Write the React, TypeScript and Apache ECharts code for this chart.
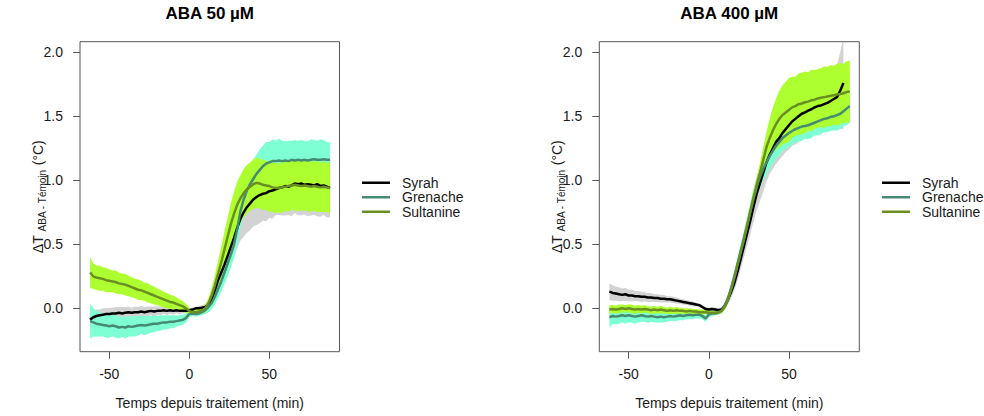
import React, { useEffect, useRef } from 'react';
import * as echarts from 'echarts';

// Time since treatment (min)
const TIME = [-62,-60,-58,-56,-54,-52,-50,-48,-46,-44,-42,-40,-38,-36,-34,-32,-30,-28,-26,-24,-22,-20,-18,-16,-14,-12,-10,-8,-6,-4,-2,0,2,4,6,8,10,12,14,16,18,20,22,24,26,28,30,32,34,36,38,40,42,44,46,48,50,52,54,56,58,60,62,64,66,68,70,72,74,76,78,80,82,84,86,88];

const CULTIVARS = ['Syrah', 'Grenache', 'Sultanine'];
const TITLES = ['ABA 50 µM', 'ABA 400 µM'];
const X_TICKS = [-50, 0, 50];
const Y_TICKS = [0, 0.5, 1, 1.5, 2];

// ---- ABA 50 µM ----
const syrah50 = [-0.09,-0.07,-0.06,-0.055,-0.05,-0.045,-0.045,-0.04,-0.04,-0.035,
  -0.04,-0.035,-0.03,-0.035,-0.03,-0.03,-0.025,-0.03,-0.025,-0.02,
  -0.025,-0.02,-0.02,-0.015,-0.02,-0.015,-0.02,-0.015,-0.02,-0.02,
  -0.02,-0.015,-0.01,0.0,0.0,0.005,0.01,0.03,0.07,0.14,
  0.22,0.28,0.34,0.41,0.48,0.55,0.63,0.70,0.75,0.79,
  0.82,0.85,0.87,0.885,0.895,0.90,0.915,0.92,0.93,0.94,
  0.945,0.955,0.95,0.96,0.975,0.97,0.975,0.965,0.97,0.965,
  0.96,0.97,0.955,0.96,0.95,0.94];
const syrah50Se = [0.07,0.05,0.05,0.045,0.05,0.045,0.05,0.045,0.05,0.045,
  0.05,0.045,0.045,0.04,0.045,0.04,0.045,0.04,0.04,0.035,
  0.04,0.035,0.035,0.03,0.035,0.03,0.03,0.025,0.025,0.02,
  0.02,0.015,0.015,0.015,0.015,0.02,0.025,0.035,0.05,0.07,
  0.09,0.1,0.11,0.12,0.13,0.14,0.16,0.17,0.19,0.2,
  0.21,0.21,0.22,0.22,0.21,0.22,0.21,0.22,0.2,0.21,
  0.22,0.23,0.22,0.24,0.23,0.24,0.25,0.23,0.25,0.24,
  0.23,0.25,0.24,0.23,0.24,0.23];
const grenache50 = [-0.10,-0.11,-0.12,-0.125,-0.13,-0.135,-0.14,-0.135,-0.14,-0.15,
  -0.145,-0.15,-0.14,-0.145,-0.14,-0.135,-0.13,-0.135,-0.13,-0.125,
  -0.12,-0.12,-0.115,-0.11,-0.11,-0.105,-0.105,-0.1,-0.095,-0.09,
  -0.075,-0.045,-0.04,-0.045,-0.04,-0.03,-0.015,0.01,0.04,0.09,
  0.15,0.21,0.28,0.35,0.42,0.50,0.62,0.76,0.85,0.92,
  0.97,1.01,1.05,1.08,1.11,1.13,1.14,1.15,1.15,1.155,
  1.15,1.155,1.15,1.16,1.155,1.16,1.155,1.16,1.155,1.16,
  1.165,1.16,1.16,1.165,1.16,1.16];
const grenache50Se = [0.14,0.11,0.1,0.095,0.09,0.095,0.09,0.085,0.09,0.085,
  0.08,0.085,0.08,0.075,0.08,0.075,0.07,0.075,0.07,0.065,
  0.065,0.06,0.06,0.055,0.055,0.05,0.05,0.045,0.04,0.04,
  0.035,0.025,0.02,0.02,0.02,0.025,0.03,0.04,0.05,0.06,
  0.07,0.08,0.09,0.1,0.1,0.11,0.12,0.13,0.13,0.14,
  0.14,0.15,0.15,0.16,0.16,0.17,0.16,0.17,0.16,0.17,
  0.16,0.15,0.16,0.15,0.16,0.15,0.16,0.15,0.15,0.16,
  0.15,0.15,0.16,0.15,0.14,0.14];
const sultanine50 = [0.28,0.25,0.24,0.235,0.23,0.22,0.215,0.21,0.205,0.195,
  0.19,0.185,0.175,0.165,0.155,0.145,0.14,0.13,0.12,0.11,
  0.10,0.09,0.08,0.07,0.06,0.05,0.045,0.035,0.025,0.015,
  0.0,-0.02,-0.03,-0.03,-0.025,-0.015,0.0,0.04,0.1,0.18,
  0.27,0.36,0.46,0.56,0.66,0.74,0.81,0.86,0.90,0.93,
  0.95,0.97,0.98,0.975,0.965,0.96,0.955,0.945,0.94,0.94,
  0.945,0.95,0.955,0.96,0.965,0.96,0.955,0.96,0.955,0.95,
  0.955,0.95,0.945,0.95,0.945,0.94];
const sultanine50Se = [0.12,0.1,0.095,0.1,0.09,0.095,0.09,0.085,0.09,0.085,
  0.08,0.085,0.08,0.08,0.075,0.08,0.075,0.07,0.075,0.07,
  0.07,0.065,0.065,0.06,0.06,0.055,0.055,0.05,0.045,0.04,
  0.035,0.025,0.02,0.02,0.02,0.025,0.03,0.04,0.06,0.08,
  0.1,0.12,0.14,0.15,0.16,0.17,0.18,0.18,0.19,0.19,
  0.19,0.19,0.2,0.19,0.2,0.19,0.2,0.19,0.2,0.19,
  0.2,0.19,0.2,0.19,0.2,0.2,0.19,0.2,0.19,0.2,
  0.19,0.2,0.19,0.2,0.19,0.2];

// ---- ABA 400 µM ----
const syrah400 = [0.13,0.12,0.115,0.11,0.105,0.11,0.10,0.1,0.095,0.095,
  0.09,0.09,0.085,0.085,0.08,0.08,0.075,0.075,0.07,0.07,
  0.065,0.06,0.055,0.05,0.045,0.04,0.035,0.03,0.025,0.01,
  -0.005,-0.01,-0.005,-0.01,-0.015,-0.01,0.02,0.07,0.13,0.2,
  0.29,0.39,0.49,0.59,0.69,0.80,0.90,0.98,1.06,1.14,
  1.2,1.25,1.3,1.33,1.37,1.40,1.43,1.46,1.48,1.50,
  1.52,1.53,1.545,1.555,1.57,1.58,1.585,1.595,1.605,1.62,
  1.635,1.65,1.70,1.76,null,null];
const syrah400Se = [0.065,0.06,0.055,0.055,0.05,0.05,0.045,0.045,0.04,0.04,
  0.04,0.035,0.035,0.035,0.03,0.03,0.03,0.03,0.025,0.025,
  0.025,0.025,0.02,0.02,0.02,0.02,0.02,0.015,0.015,0.015,
  0.015,0.015,0.015,0.015,0.015,0.02,0.03,0.04,0.05,0.06,
  0.07,0.08,0.09,0.1,0.11,0.12,0.13,0.14,0.15,0.15,
  0.15,0.16,0.17,0.17,0.18,0.18,0.19,0.19,0.2,0.2,
  0.2,0.2,0.21,0.2,0.21,0.2,0.21,0.21,0.22,0.22,
  0.22,0.25,0.3,0.36,null,null];
const grenache400 = [-0.07,-0.06,-0.065,-0.06,-0.055,-0.06,-0.055,-0.06,-0.065,-0.06,
  -0.055,-0.06,-0.065,-0.06,-0.065,-0.07,-0.065,-0.07,-0.065,-0.06,
  -0.065,-0.06,-0.055,-0.06,-0.055,-0.05,-0.055,-0.05,-0.05,-0.06,
  -0.08,-0.05,-0.04,-0.04,-0.035,-0.02,0.02,0.08,0.16,0.25,
  0.35,0.45,0.55,0.65,0.76,0.86,0.95,1.03,1.09,1.14,
  1.19,1.23,1.27,1.30,1.33,1.35,1.37,1.385,1.40,1.41,
  1.42,1.425,1.43,1.44,1.45,1.46,1.47,1.48,1.485,1.495,
  1.50,1.51,1.52,1.54,1.56,1.58];
const grenache400Se = [0.08,0.065,0.06,0.06,0.055,0.06,0.055,0.05,0.055,0.05,
  0.05,0.045,0.05,0.045,0.045,0.04,0.045,0.04,0.04,0.04,
  0.035,0.04,0.035,0.035,0.03,0.035,0.03,0.03,0.03,0.025,
  0.025,0.02,0.02,0.015,0.015,0.02,0.025,0.03,0.04,0.05,
  0.05,0.06,0.06,0.07,0.07,0.08,0.08,0.09,0.09,0.1,
  0.1,0.1,0.1,0.11,0.1,0.11,0.11,0.11,0.1,0.11,
  0.11,0.1,0.11,0.11,0.1,0.11,0.11,0.1,0.11,0.11,
  0.11,0.12,0.12,0.12,0.13,0.13];
const sultanine400 = [-0.01,-0.005,-0.01,-0.005,0.0,-0.005,0.0,-0.005,-0.01,-0.005,
  -0.01,-0.005,-0.01,-0.015,-0.01,-0.015,-0.01,-0.015,-0.02,-0.015,
  -0.02,-0.015,-0.02,-0.02,-0.025,-0.02,-0.025,-0.025,-0.03,-0.03,
  -0.03,-0.035,-0.035,-0.035,-0.03,-0.02,0.01,0.07,0.15,0.24,
  0.34,0.44,0.54,0.65,0.76,0.87,0.97,1.06,1.16,1.26,
  1.33,1.39,1.44,1.48,1.51,1.53,1.55,1.57,1.58,1.595,
  1.60,1.61,1.615,1.625,1.63,1.64,1.645,1.65,1.655,1.66,
  1.665,1.67,1.675,1.68,1.69,1.695];
const sultanine400Se = [0.035,0.03,0.03,0.035,0.03,0.03,0.03,0.035,0.03,0.03,
  0.03,0.03,0.025,0.03,0.03,0.025,0.03,0.025,0.025,0.03,
  0.025,0.025,0.025,0.02,0.025,0.02,0.02,0.02,0.02,0.02,
  0.015,0.015,0.015,0.015,0.015,0.02,0.02,0.025,0.03,0.035,
  0.04,0.04,0.045,0.05,0.05,0.055,0.06,0.08,0.1,0.12,
  0.15,0.18,0.2,0.22,0.23,0.24,0.25,0.24,0.23,0.24,
  0.24,0.24,0.23,0.24,0.23,0.23,0.23,0.24,0.23,0.24,
  0.23,0.24,0.24,0.23,0.24,0.24];

const PANELS = [
  { means: [syrah50, grenache50, sultanine50], ses: [syrah50Se, grenache50Se, sultanine50Se] },
  { means: [syrah400, grenache400, sultanine400], ses: [syrah400Se, grenache400Se, sultanine400Se] },
];

const LINE_COLORS = ['#000000', '#458B74', '#6B8E23'];
const BAND_COLORS = ['#D3D3D3', '#7FFFD4', '#ADFF2F'];
const FONT = "'Liberation Sans', Arial, Helvetica, sans-serif";
const TEXT_COLOR = '#1a1a1a';

const GRIDS = [
  { left: 80, top: 41.7, width: 259.5, height: 310 },
  { left: 599.3, top: 41.7, width: 260, height: 310 },
];

function measure(text: string, size: number): number {
  const ctx = document.createElement('canvas').getContext('2d');
  if (!ctx) return text.length * size * 0.55;
  ctx.font = `${size}px 'Liberation Sans'`;
  return ctx.measureText(text).width;
}

function yLabel(cx: number, cy: number) {
  const a = 'ΔT ';
  const s = 'ABA - Témoin';
  const b = ' (°C)';
  const wa = measure(a, 14);
  const ws = measure(s, 10);
  const wb = measure(b, 14);
  const W = wa + ws + wb;
  const x0 = -W / 2;
  const base = { fontFamily: FONT, fill: TEXT_COLOR, textAlign: 'left', textVerticalAlign: 'middle' };
  return {
    type: 'group',
    x: cx,
    y: cy,
    rotation: Math.PI / 2,
    silent: true,
    children: [
      { type: 'text', x: x0, y: 0, style: { ...base, text: a, fontSize: 14 } },
      { type: 'text', x: x0 + wa, y: 4.5, style: { ...base, text: s, fontSize: 10 } },
      { type: 'text', x: x0 + wa + ws, y: 0, style: { ...base, text: b, fontSize: 14 } },
    ],
  };
}

function bandSeries(pi: number, ci: number, m: (number | null)[], se: (number | null)[]) {
  return {
    type: 'custom',
    name: `${CULTIVARS[ci]}-band-${pi}`,
    xAxisIndex: pi,
    yAxisIndex: pi,
    silent: true,
    z: 2,
    data: [[0, 0]],
    renderItem: (params: any, api: any) => {
      const up: number[][] = [];
      const dn: number[][] = [];
      TIME.forEach((t, i) => {
        const v = m[i];
        const s = se[i];
        if (v == null || s == null) return;
        up.push(api.coord([t, v + s]));
        dn.push(api.coord([t, v - s]));
      });
      const cs = params.coordSys;
      return {
        type: 'polygon',
        shape: { points: up.concat(dn.reverse()) },
        style: { fill: BAND_COLORS[ci], stroke: null },
        clipPath: { type: 'rect', shape: { x: cs.x, y: cs.y, width: cs.width, height: cs.height } },
      };
    },
  };
}

function buildOption() {
  const series: any[] = [];
  PANELS.forEach((p, pi) => {
    p.means.forEach((m, ci) => series.push(bandSeries(pi, ci, m, p.ses[ci])));
    p.means.forEach((m, ci) => {
      const data: any[] = [];
      TIME.forEach((t, i) => { if (m[i] != null) data.push([t, m[i]]); });
      series.push({
        type: 'line', name: CULTIVARS[ci], xAxisIndex: pi, yAxisIndex: pi,
        data, symbol: 'none', silent: true,
        color: LINE_COLORS[ci],
        itemStyle: { color: LINE_COLORS[ci] },
        lineStyle: { color: LINE_COLORS[ci], width: 2.5 }, z: 3,
      });
    });
  });

  const axisLineColor = '#555';
  const xAxes = GRIDS.map((_, i) => ({
    type: 'value', gridIndex: i, min: -68.3, max: 93.9,
    name: 'Temps depuis traitement (min)', nameLocation: 'middle', nameGap: 44,
    nameTextStyle: { fontFamily: FONT, fontSize: 14, color: TEXT_COLOR },
    axisLine: { show: false, onZero: false },
    axisTick: { show: true, inside: false, length: 7, customValues: X_TICKS, lineStyle: { color: axisLineColor, width: 1 } },
    axisLabel: { customValues: X_TICKS, margin: 15, fontFamily: FONT, fontSize: 14, color: TEXT_COLOR },
    splitLine: { show: false },
  }));
  const yAxes = GRIDS.map((_, i) => ({
    type: 'value', gridIndex: i, min: -0.339, max: 2.083,
    axisLine: { show: false, onZero: false },
    axisTick: { show: true, inside: false, length: 7, customValues: Y_TICKS, lineStyle: { color: axisLineColor, width: 1 } },
    axisLabel: {
      customValues: Y_TICKS, margin: 17, fontFamily: FONT, fontSize: 14, color: TEXT_COLOR,
      formatter: (v: number) => v.toFixed(1),
    },
    splitLine: { show: false },
  }));

  const legends = [362, 882].map((left) => ({
    left, top: 175.5, orient: 'vertical', padding: 0, itemGap: 0,
    itemWidth: 28, itemHeight: 2.5, icon: 'rect', selectedMode: false,
    data: CULTIVARS,
    textStyle: { fontFamily: FONT, fontSize: 14, lineHeight: 14.5, color: TEXT_COLOR, padding: [0, 0, 0, 7] },
  }));

  const graphic: any[] = [
    ...TITLES.map((t, i) => ({
      type: 'text', x: GRIDS[i].left + GRIDS[i].width / 2, y: 13.5, silent: true,
      style: { text: t, fontFamily: FONT, fontSize: 17, fontWeight: 'bold', fill: '#000', textAlign: 'center', textVerticalAlign: 'middle' },
    })),
    yLabel(38, 196.7),
    yLabel(38 + 519.3, 196.7),
  ];

  return {
    animation: false,
    backgroundColor: '#ffffff',
    grid: GRIDS.map((g) => ({ ...g, show: true, borderColor: axisLineColor, borderWidth: 1, backgroundColor: 'transparent' })),
    xAxis: xAxes,
    yAxis: yAxes,
    legend: legends,
    graphic,
    series,
  };
}

export default function App() {
  const ref = useRef<HTMLDivElement>(null);
  useEffect(() => {
    if (!ref.current) return;
    const chart = echarts.init(ref.current, null, { renderer: 'svg' });
    chart.setOption(buildOption() as any);
    return () => chart.dispose();
  }, []);
  return (
    <div
      ref={ref}
      style={{ position: 'fixed', left: 0, top: 0, width: 984, height: 416, background: '#fff' }}
    />
  );
}
